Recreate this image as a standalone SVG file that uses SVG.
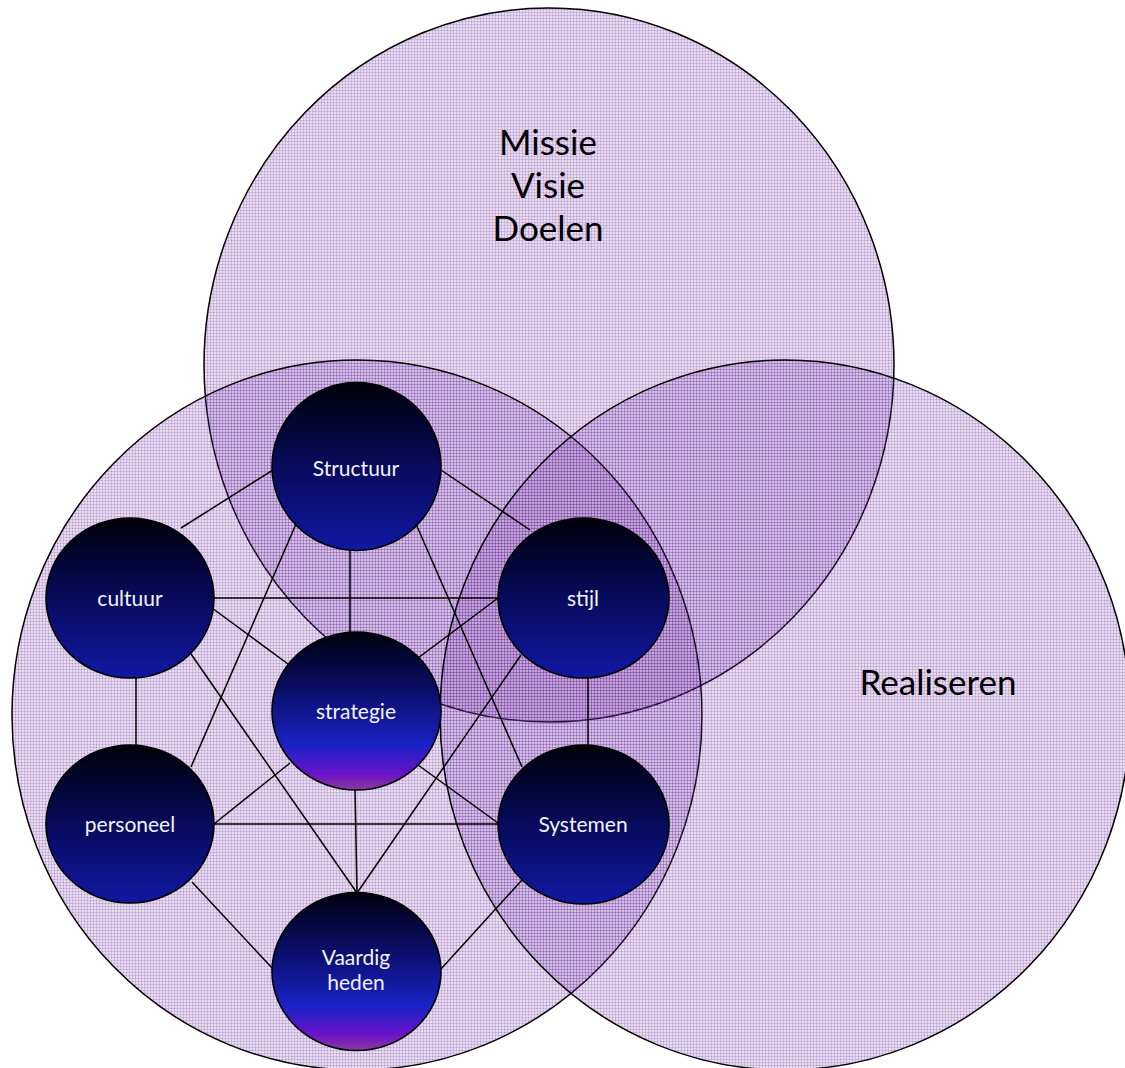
<svg xmlns="http://www.w3.org/2000/svg" width="1125" height="1068" viewBox="0 0 1125 1068">
  <defs>
    <!-- fine lavender grid used for the three large areas -->
    <pattern id="grid" width="3" height="3" patternUnits="userSpaceOnUse">
      <rect width="3" height="3" fill="#7030a0" fill-opacity="0.17"/>
      <rect width="3" height="1" fill="#7030a0" fill-opacity="0.2"/>
      <rect width="1" height="3" fill="#7030a0" fill-opacity="0.2"/>
    </pattern>
    <linearGradient id="navy" x1="0" y1="0" x2="0" y2="1">
      <stop offset="0" stop-color="#000008"/>
      <stop offset="0.5" stop-color="#070b5c"/>
      <stop offset="1" stop-color="#1118a2"/>
    </linearGradient>
    <linearGradient id="violet" x1="0" y1="0" x2="0" y2="1">
      <stop offset="0" stop-color="#00000c"/>
      <stop offset="0.38" stop-color="#0a0f6c"/>
      <stop offset="0.72" stop-color="#1a22c6"/>
      <stop offset="0.9" stop-color="#6a12c8"/>
      <stop offset="1" stop-color="#8a3c9c"/>
    </linearGradient>
    <style>
      .area { fill: url(#grid); stroke: #000; stroke-width: 1.5; }
      .node { stroke: #000; stroke-width: 1.6; }
      .link { stroke: #000; stroke-width: 1.5; fill: none; }
      .lbl { font-family: Lato, "Liberation Sans", sans-serif; font-size: 21px; fill: #f2f2fa; text-anchor: middle; }
      .big { font-family: Lato, "Liberation Sans", sans-serif; font-size: 35px; fill: #000; text-anchor: middle; }
    </style>
  </defs>

  <!-- three overlapping areas -->
  <g id="areas">
    <g id="area-missie">
      <ellipse class="area" cx="549" cy="365" rx="345" ry="357"/>
      <text class="big" x="548" y="155">Missie</text>
      <text class="big" x="548" y="198">Visie</text>
      <text class="big" x="548" y="241">Doelen</text>
    </g>
    <g id="area-organisatie">
      <ellipse class="area" cx="357" cy="715" rx="345" ry="355"/>
    </g>
    <g id="area-realiseren">
      <ellipse class="area" cx="785" cy="715" rx="345" ry="355"/>
      <text class="big" x="938" y="695">Realiseren</text>
    </g>
  </g>

  <!-- connectors between the seven elements -->
  <g id="connectors">
    <line class="link" x1="273" y1="470" x2="181" y2="528"/>
    <line class="link" x1="441" y1="470" x2="530" y2="530"/>
    <line class="link" x1="350" y1="548" x2="350" y2="634"/>
    <line class="link" x1="296" y1="524" x2="191" y2="767"/>
    <line class="link" x1="416" y1="524" x2="522" y2="767"/>
    <line class="link" x1="213" y1="598" x2="499" y2="598"/>
    <line class="link" x1="212" y1="608" x2="288" y2="664"/>
    <line class="link" x1="136" y1="676" x2="136" y2="746"/>
    <line class="link" x1="191" y1="654" x2="357" y2="893"/>
    <line class="link" x1="498" y1="598" x2="418" y2="658"/>
    <line class="link" x1="588" y1="676" x2="588" y2="746"/>
    <line class="link" x1="521" y1="655" x2="357" y2="893"/>
    <line class="link" x1="290" y1="763" x2="214" y2="824"/>
    <line class="link" x1="418" y1="765" x2="498" y2="823"/>
    <line class="link" x1="355" y1="788" x2="357" y2="893"/>
    <line class="link" x1="213" y1="824" x2="499" y2="824"/>
    <line class="link" x1="192" y1="882" x2="273" y2="969"/>
    <line class="link" x1="522" y1="880" x2="441" y2="969"/>
  </g>

  <g id="node-structuur">
    <ellipse class="node" cx="356.5" cy="466.5" rx="84.5" ry="84" fill="url(#navy)"/>
    <text class="lbl" x="356" y="476">Structuur</text>
  </g>
  <g id="node-cultuur">
    <ellipse class="node" cx="130" cy="598" rx="84" ry="80" fill="url(#navy)"/>
    <text class="lbl" x="130" y="606">cultuur</text>
  </g>
  <g id="node-stijl">
    <ellipse class="node" cx="583.5" cy="598" rx="85.5" ry="80" fill="url(#navy)"/>
    <text class="lbl" x="583" y="606">stijl</text>
  </g>
  <g id="node-strategie">
    <ellipse class="node" cx="356.5" cy="711" rx="84.5" ry="79" fill="url(#violet)"/>
    <text class="lbl" x="356" y="719">strategie</text>
  </g>
  <g id="node-personeel">
    <ellipse class="node" cx="130" cy="824" rx="84" ry="79" fill="url(#navy)"/>
    <text class="lbl" x="130" y="832">personeel</text>
  </g>
  <g id="node-systemen">
    <ellipse class="node" cx="583.5" cy="824.5" rx="85.5" ry="79.5" fill="url(#navy)"/>
    <text class="lbl" x="583" y="832">Systemen</text>
  </g>
  <g id="node-vaardigheden">
    <ellipse class="node" cx="356.5" cy="971.5" rx="84.5" ry="79" fill="url(#violet)"/>
    <text class="lbl" x="356" y="965">Vaardig</text>
    <text class="lbl" x="356" y="990">heden</text>
  </g>
</svg>
